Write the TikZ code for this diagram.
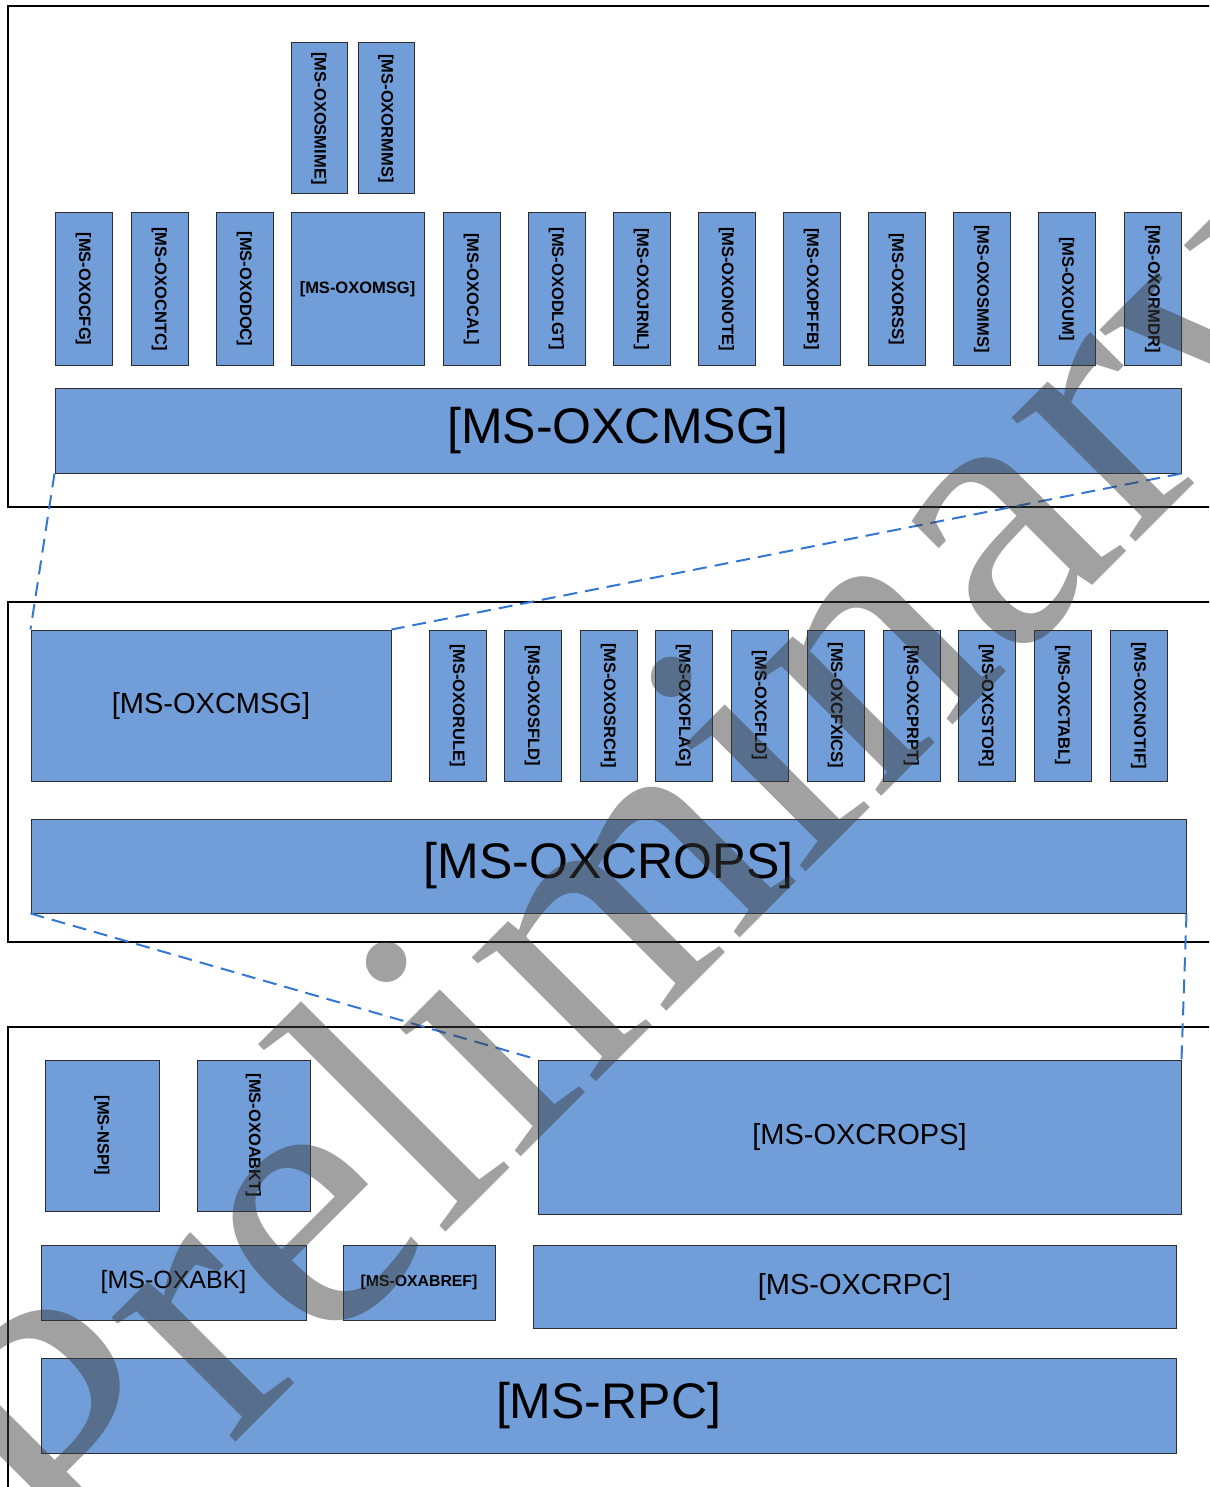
\documentclass[tikz,border=0pt]{standalone}
\usepackage{fontspec}
\setmainfont{Liberation Sans}
\newfontfamily\wmfont{Liberation Serif}
\usepackage{xcolor}
\usepackage{tikz}
\definecolor{specblue}{RGB}{113,158,216}
\definecolor{linkblue}{RGB}{52,118,210}
\definecolor{edgegray}{RGB}{45,45,45}

\tikzset{
    spec/.style={draw=edgegray, line width=1pt, fill=specblue, inner sep=0pt},
    vspec/.style={spec, rotate=-90, minimum width=152, minimum height=57,
        font=\bfseries\fontsize{16.5}{18}\selectfont},
    bigspec/.style={spec, font=\fontsize{50}{56}\selectfont},
    midspec/.style={spec, font=\fontsize{29}{32}\selectfont},
    frame/.style={draw=black, line width=1.4pt},
    link/.style={draw=linkblue, line width=2pt, dash pattern=on 14pt off 8pt},
    wmark/.style={inner sep=0pt, text=black!77, text opacity=0.48,
        font=\wmfont\fontsize{382}{382}\selectfont}
}

\begin{document}
\begin{tikzpicture}[x=1pt, y=-1pt]
    \useasboundingbox (0,0) rectangle (1209,1487);
    \clip (0,0) rectangle (1209,1487);

    % Message and attachment layer
    \draw[frame] (8,6) rectangle (1240,507);
    \node[vspec, minimum height=56, minimum width=151] (oxosmime) at (319,118.5) {[MS-OXOSMIME]};
    \node[vspec, minimum height=56, minimum width=151] (oxormms) at (386,118.5) {[MS-OXORMMS]};
    \node[vspec] (oxocfg) at (83.5,289) {[MS-OXOCFG]};
    \node[vspec] (oxocntc) at (159.5,289) {[MS-OXOCNTC]};
    \node[vspec] (oxodoc) at (244.5,289) {[MS-OXODOC]};
    \node[spec, minimum width=133, minimum height=152,
        font=\bfseries\fontsize{16.5}{18}\selectfont] (oxomsg) at (357.5,289) {[MS-OXOMSG]};
    \node[vspec] (oxocal) at (471.5,289) {[MS-OXOCAL]};
    \node[vspec] (oxodlgt) at (556.5,289) {[MS-OXODLGT]};
    \node[vspec] (oxojrnl) at (641.5,289) {[MS-OXOJRNL]};
    \node[vspec] (oxonote) at (726.5,289) {[MS-OXONOTE]};
    \node[vspec] (oxopffb) at (811.5,289) {[MS-OXOPFFB]};
    \node[vspec] (oxorss) at (896.5,289) {[MS-OXORSS]};
    \node[vspec] (oxosmms) at (981.5,289) {[MS-OXOSMMS]};
    \node[vspec] (oxoum) at (1066.5,289) {[MS-OXOUM]};
    \node[vspec] (oxormdr) at (1152.5,289) {[MS-OXORMDR]};
    \node[bigspec, minimum width=1126, minimum height=85] (oxcmsg) at (618,430.5) {[MS-OXCMSG]};

    % Remote operations layer
    \draw[frame] (8,602) rectangle (1240,942);
    \node[midspec, minimum width=360, minimum height=151] (oxcmsgsub) at (211,705.5) {[MS-OXCMSG]};
    \node[vspec, minimum width=151] (oxorule) at (457.5,705.5) {[MS-OXORULE]};
    \node[vspec, minimum width=151] (oxosfld) at (532.5,705.5) {[MS-OXOSFLD]};
    \node[vspec, minimum width=151] (oxosrch) at (608.5,705.5) {[MS-OXOSRCH]};
    \node[vspec, minimum width=151] (oxoflag) at (683.5,705.5) {[MS-OXOFLAG]};
    \node[vspec, minimum width=151] (oxcfld) at (759.5,705.5) {[MS-OXCFLD]};
    \node[vspec, minimum width=151] (oxcfxics) at (835.5,705.5) {[MS-OXCFXICS]};
    \node[vspec, minimum width=151] (oxcprpt) at (911.5,705.5) {[MS-OXCPRPT]};
    \node[vspec, minimum width=151] (oxcstor) at (986.5,705.5) {[MS-OXCSTOR]};
    \node[vspec, minimum width=151] (oxctabl) at (1062.5,705.5) {[MS-OXCTABL]};
    \node[vspec, minimum width=151] (oxcnotif) at (1138.5,705.5) {[MS-OXCNOTIF]};
    \node[bigspec, minimum width=1155, minimum height=94] (oxcrops) at (608.5,866) {[MS-OXCROPS]};

    % Transport layer
    \draw[frame] (8,1027) rectangle (1240,1520);
    \node[vspec, minimum width=151, minimum height=114] (nspi) at (102,1135.5) {[MS-NSPI]};
    \node[vspec, minimum width=151, minimum height=113] (oxoabkt) at (253.5,1135.5) {[MS-OXOABKT]};
    \node[midspec, minimum width=643, minimum height=154] (oxcropssub) at (859.5,1137) {[MS-OXCROPS]};
    \node[spec, minimum width=265, minimum height=75,
        font=\fontsize{25}{28}\selectfont] (oxabk) at (173.5,1282.5) {[MS-OXABK]};
    \node[spec, minimum width=152, minimum height=75,
        font=\bfseries\fontsize{15.8}{17}\selectfont] (oxabref) at (419,1282.5) {[MS-OXABREF]};
    \node[midspec, minimum width=643, minimum height=83] (oxcrpc) at (854.5,1286.5) {[MS-OXCRPC]};
    \node[bigspec, minimum width=1135, minimum height=95] (rpc) at (608.5,1405.5) {[MS-RPC]};

    % Zoom lines between layers
    \draw[link] (oxcmsg.south west) -- (oxcmsgsub.north west);
    \draw[link] (oxcmsg.south east) -- (oxcmsgsub.north east);
    \draw[link] (oxcrops.south west) -- (oxcropssub.north west);
    \draw[link] (oxcrops.south east) -- (oxcropssub.north east);

    % Watermark
    \node[wmark, rotate=45, anchor=base west] (wm) at (80,1598) {Preliminary};
\end{tikzpicture}
\end{document}
